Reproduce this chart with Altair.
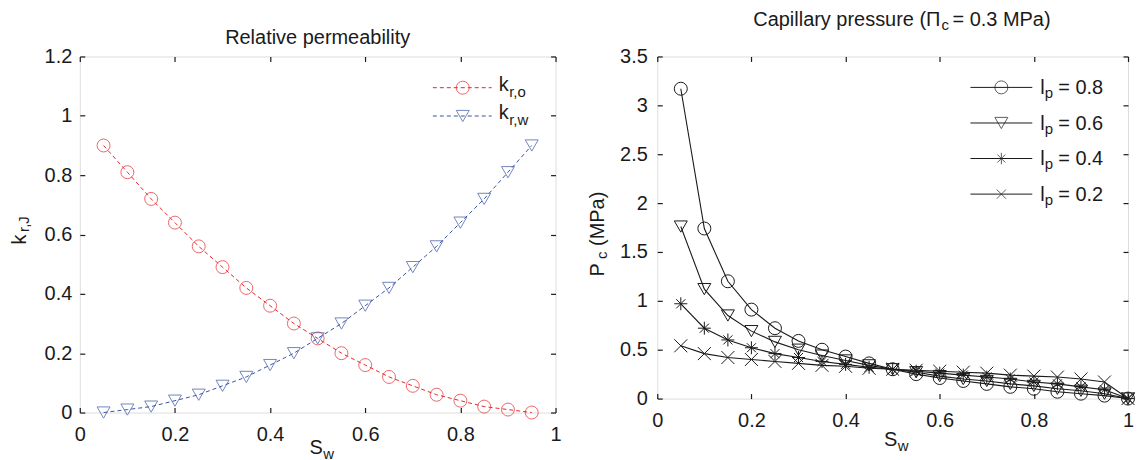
import altair as alt
import pandas as pd

# ---------------- data ----------------
sw_rel = [0.05, 0.10, 0.15, 0.20, 0.25, 0.30, 0.35, 0.40, 0.45, 0.50,
          0.55, 0.60, 0.65, 0.70, 0.75, 0.80, 0.85, 0.90, 0.95]
kr_o = [0.90, 0.81, 0.72, 0.64, 0.56, 0.49, 0.42, 0.36, 0.30, 0.25,
        0.20, 0.16, 0.12, 0.09, 0.06, 0.04, 0.02, 0.01, 0.00]
kr_w = [0.00, 0.01, 0.02, 0.04, 0.06, 0.09, 0.12, 0.16, 0.20, 0.25,
        0.30, 0.36, 0.42, 0.49, 0.56, 0.64, 0.72, 0.81, 0.90]

sw_cap = [0.05, 0.10, 0.15, 0.20, 0.25, 0.30, 0.35, 0.40, 0.45, 0.50,
          0.55, 0.60, 0.65, 0.70, 0.75, 0.80, 0.85, 0.90, 0.95, 1.00]
pc_lp08 = [3.17, 1.74, 1.20, 0.91, 0.72, 0.59, 0.50, 0.43, 0.36, 0.30,
           0.25, 0.21, 0.18, 0.15, 0.12, 0.10, 0.07, 0.05, 0.03, 0.00]
pc_lp06 = [1.76, 1.12, 0.85, 0.69, 0.58, 0.50, 0.44, 0.39, 0.34, 0.30,
           0.27, 0.23, 0.20, 0.18, 0.15, 0.13, 0.10, 0.08, 0.05, 0.00]
pc_lp04 = [0.97, 0.72, 0.60, 0.52, 0.46, 0.42, 0.38, 0.35, 0.32, 0.30,
           0.28, 0.26, 0.24, 0.22, 0.20, 0.17, 0.15, 0.12, 0.09, 0.00]
pc_lp02 = [0.54, 0.46, 0.42, 0.40, 0.38, 0.36, 0.34, 0.33, 0.31, 0.30,
           0.29, 0.28, 0.27, 0.26, 0.24, 0.23, 0.22, 0.20, 0.17, 0.00]

rel_series = ["kro", "krw"]
cap_series = ["0.8", "0.6", "0.4", "0.2"]
x_ticks = [0, 0.2, 0.4, 0.6, 0.8, 1]
yl_ticks = [0, 0.2, 0.4, 0.6, 0.8, 1, 1.2]
yr_ticks = [0, 0.5, 1, 1.5, 2, 2.5, 3, 3.5]

# ---------------- style ----------------
FONT = "Liberation Sans"
INK = "#1a1a1a"
RED = "#e8262b"
BLUE = "#3953a4"
FS = 20
SUB = 15
ASTER = "M-1,0L1,0M0,-1L0,1M-0.7,-0.7L0.7,0.7M-0.7,0.7L0.7,-0.7"
XMARK = "M-1,-1L1,1M-1,1L1,-1"
cap_shapes = ["circle", "triangle-down", ASTER, XMARK]
cap_sizes = [169, 169, 130, 85]

WL, HL = 477, 357
WR, HR = 472, 343

ONE = pd.DataFrame({"k": [0]})


def txt(s, x, y, size=FS, align="left", angle=0, color=INK):
    kw = dict(text=s, font=FONT, fontSize=size, align=align,
              baseline="alphabetic", color=color)
    if angle:
        kw["angle"] = angle
    return alt.Chart(ONE).mark_text(**kw).encode(x=alt.value(x), y=alt.value(y))


def ax(orient, values, labels=True, pad=10):
    kw = dict(orient=orient, values=values, grid=False, domain=False,
              ticks=True, tickSize={"expr": "-5"}, tickColor=INK,
              tickWidth=1.2, title=None)
    if labels:
        kw.update(labels=True, labelFont=FONT, labelFontSize=FS,
                  labelColor=INK, labelPadding=pad, format="~g",
                  labelFlush=False, labelOverlap=False)
    else:
        kw.update(labels=False)
    return alt.Axis(**kw)


def anchor(x1, x2, y):
    return alt.Chart(ONE).mark_rule(opacity=0).encode(
        x=alt.value(x1), x2=alt.value(x2), y=alt.value(y))


# ---------------- left panel ----------------
left_df = pd.DataFrame({
    "Sw": sw_rel + sw_rel,
    "kr": kr_o + kr_w,
    "series": [rel_series[0]] * len(sw_rel) + [rel_series[1]] * len(sw_rel),
})
xs = alt.Scale(domain=[0, 1], nice=False, zero=False)
ysl = alt.Scale(domain=[0, 1.2], nice=False)
col = alt.Color("series:N", scale=alt.Scale(domain=rel_series, range=[RED, BLUE]), legend=None)
shp = alt.Shape("series:N", scale=alt.Scale(domain=rel_series, range=["circle", "triangle-down"]), legend=None)

lb = alt.Chart(left_df)
l_line = lb.mark_line(strokeDash=[4, 3], strokeWidth=1).encode(
    x=alt.X("Sw:Q", scale=xs, axis=ax("bottom", x_ticks, pad=17)),
    y=alt.Y("kr:Q", scale=ysl, axis=ax("left", yl_ticks, pad=13)),
    color=col, detail="series:N")
l_pts = lb.mark_point(filled=False, size=169, strokeWidth=1).encode(
    x=alt.X("Sw:Q", scale=xs, axis=None),
    y=alt.Y("kr:Q", scale=ysl, axis=None),
    color=col, shape=shp)
l_mirror = lb.mark_point(opacity=0).encode(
    x=alt.X("Sw:Q", scale=xs, axis=ax("top", x_ticks, labels=False)),
    y=alt.Y("kr:Q", scale=ysl, axis=ax("right", yl_ticks, labels=False)))

left_layers = [l_line, l_pts, l_mirror, anchor(-79, WL + 20, -42)]
left_layers += [
    txt("Relative permeability", WL / 2, -13, align="center"),
    txt("S", 237, 399, align="center"),
    txt("w", 244, 404, size=SUB),
    txt("k", -54, 183.5, align="center", angle=270),
    txt("r,J", -51, 176, size=SUB, angle=270),
]
leg_rel = [(RED, "circle", "r,o", 31.3, 35), (BLUE, "triangle-down", "r,w", 59.7, 63)]
for c, s, sub, ly, tb in leg_rel:
    left_layers += [
        alt.Chart(ONE).mark_rule(color=c, strokeDash=[4, 3], strokeWidth=1).encode(
            x=alt.value(354), x2=alt.value(413), y=alt.value(ly)),
        alt.Chart(ONE).mark_point(shape=s, size=169, filled=False, color=c, strokeWidth=1).encode(
            x=alt.value(384), y=alt.value(ly)),
        txt("k", 420, tb),
        txt(sub, 430.5, tb + 6, size=SUB),
    ]
left = alt.layer(*left_layers).properties(width=WL, height=HL)

# ---------------- right panel ----------------
right_df = pd.DataFrame({
    "Sw": sw_cap * 4,
    "Pc": pc_lp08 + pc_lp06 + pc_lp04 + pc_lp02,
    "lp": sum([[s] * len(sw_cap) for s in cap_series], []),
})
ysr = alt.Scale(domain=[0, 3.5], nice=False)
rshp = alt.Shape("lp:N", scale=alt.Scale(domain=cap_series, range=cap_shapes), legend=None)
rsize = alt.Size("lp:N", scale=alt.Scale(domain=cap_series, range=cap_sizes), legend=None)

rb = alt.Chart(right_df)
r_line = rb.mark_line(color=INK, strokeWidth=1.1).encode(
    x=alt.X("Sw:Q", scale=xs, axis=ax("bottom", x_ticks, pad=17)),
    y=alt.Y("Pc:Q", scale=ysr, axis=ax("left", yr_ticks, pad=15)),
    detail="lp:N")
r_pts = rb.mark_point(filled=False, color=INK, strokeWidth=1, opacity=1).encode(
    x=alt.X("Sw:Q", scale=xs, axis=None),
    y=alt.Y("Pc:Q", scale=ysr, axis=None),
    shape=rshp, size=rsize)
r_mirror = rb.mark_point(opacity=0).encode(
    x=alt.X("Sw:Q", scale=xs, axis=ax("top", x_ticks, labels=False)),
    y=alt.Y("Pc:Q", scale=ysr, axis=ax("right", yr_ticks, labels=False)))

right_layers = [r_line, r_pts, r_mirror, anchor(-80, WR, -55)]
right_layers += [
    txt("Capillary pressure (\u03a0", 284, -31, align="right"),
    txt("c", 285, -27, size=SUB),
    txt("= 0.3 MPa)", 296, -31),
    txt("S", 234, 391, align="center"),
    txt("w", 241, 396, size=SUB),
    txt("P", -53, 214, align="center", angle=270),
    txt("c", -50, 203, size=SUB, angle=270),
    txt("(MPa)", -53, 190, angle=270),
]
leg_rows = [31, 66.7, 102.3, 138]
for i, lab in enumerate(cap_series):
    ly = leg_rows[i]
    right_layers += [
        alt.Chart(ONE).mark_rule(color=INK, strokeWidth=1).encode(
            x=alt.value(314), x2=alt.value(376), y=alt.value(ly)),
        alt.Chart(ONE).mark_point(shape=cap_shapes[i], size=cap_sizes[i], filled=False,
                                  color=INK, strokeWidth=1).encode(
            x=alt.value(345), y=alt.value(ly)),
        txt("l", 384, ly + 7),
        txt("p", 388.5, ly + 11, size=SUB),
        txt("= " + lab, 402, ly + 7),
    ]
right = alt.layer(*right_layers).properties(width=WR, height=HR)

chart = alt.hconcat(left, right, spacing=0).resolve_scale(
    x="independent", y="independent", color="independent",
    shape="independent", size="independent"
).properties(
    padding={"left": 0, "top": 0, "right": 0, "bottom": 9}
).configure_view(stroke=INK, strokeWidth=1.8).configure(background="white")

chart.save("out.html", embed_options={"renderer": "svg", "actions": False})
